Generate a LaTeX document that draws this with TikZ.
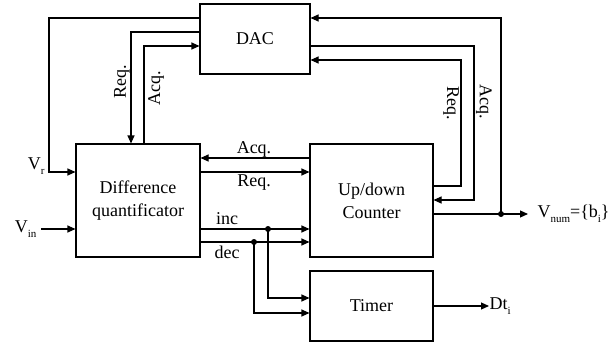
\documentclass[tikz,border=0pt]{standalone}
\usepackage{fontspec}
\setmainfont{Liberation Serif}
\usetikzlibrary{arrows.meta}
\newcommand\sbs[1]{\raisebox{-0.55ex}{\fontsize{11}{11}\selectfont #1}}
\newcommand\lblfont{\fontsize{18}{23}\selectfont}
\begin{document}
\begin{tikzpicture}[x=1pt,y=-1pt,line width=1.1pt,
  blk/.style={draw,line width=1.1pt,inner sep=0pt,align=center,font=\lblfont},
  arr/.style={-{Triangle[length=8pt,width=7pt]}},
  lbl/.style={font=\lblfont,inner sep=0pt},
  dot/.style={circle,fill,inner sep=0pt,minimum size=6pt}]
\useasboundingbox (0,0) rectangle (610,345);
% blocks
\node[blk,minimum width=110pt,minimum height=70pt] (dac) at (255,39) {DAC};
\node[blk,minimum width=124pt,minimum height=113pt] (dq) at (138,200.5) {Difference\\quantificator};
\node[blk,minimum width=123pt,minimum height=113pt] (cnt) at (371.5,200.5) {Up/down\\Counter};
\node[blk,minimum width=123pt,minimum height=70pt] (tim) at (371.5,306) {Timer};
% outer labels
\node[lbl,anchor=east] (vr) at (45,166) {V\sbs{r}};
\node[lbl,anchor=east,inner xsep=4pt] (vin) at (41,229) {V\sbs{in}};
\node[lbl,anchor=west,inner xsep=0pt] (vnum) at (537,214) {V\sbs{num}=\{b\sbs{i}\}};
\node[lbl,anchor=west] (dt) at (489,306) {Dt\sbs{i}};
\coordinate (vnumtip) at (528,214);
\coordinate (vdot) at (501,214);
\coordinate (incdot) at (268,229);
\coordinate (decdot) at (254,242);
% left loops with DAC
\draw[arr] (dac.west |- 0,18) -| (49,172) -- (dq.west |- 0,172);
\draw[arr] (dac.west |- 0,32) -| (dq.north -| 131,0);
\draw[arr] (dq.north -| 144,0) |- (dac.west |- 0,46);
\node[lbl,rotate=90] at (122,82) {Req.};
\node[lbl,rotate=90] at (156,88) {Acq.};
% right loops with DAC
\draw[arr] (vdot) |- (dac.east |- 0,18);
\draw[arr] (dac.east |- 0,46) -| (474,200) -- (cnt.east |- 0,200);
\draw[arr] (cnt.east |- 0,186) -| (461,60) -- (dac.east |- 0,60);
\node[lbl,rotate=-90] at (451,103) {Req.};
\node[lbl,rotate=-90] at (484,102) {Acq.};
% counter output
\draw[arr] (cnt.east |- vdot) -- (vnumtip);
\node[dot] at (vdot) {};
% between DQ and counter
\draw[arr] (cnt.west |- 0,158) -- (dq.east |- 0,158);
\node[lbl] at (254,149) {Acq.};
\draw[arr] (dq.east |- 0,172) -- (cnt.west |- 0,172);
\node[lbl] at (254,183) {Req.};
\draw[arr] (dq.east |- incdot) -- (cnt.west |- incdot);
\node[lbl] at (227,219) {inc};
\draw[arr] (dq.east |- decdot) -- (cnt.west |- decdot);
\node[lbl] at (227,252) {dec};
\draw[arr] (incdot) |- (tim.west |- 0,298);
\draw[arr] (decdot) |- (tim.west |- 0,313);
\node[dot] at (incdot) {};
\node[dot] at (decdot) {};
% inputs / outputs
\draw[arr] (vin.east) -- (dq.west |- vin.east);
\draw[arr] (tim.east |- dt.west) -- (dt.west);
\end{tikzpicture}
\end{document}
